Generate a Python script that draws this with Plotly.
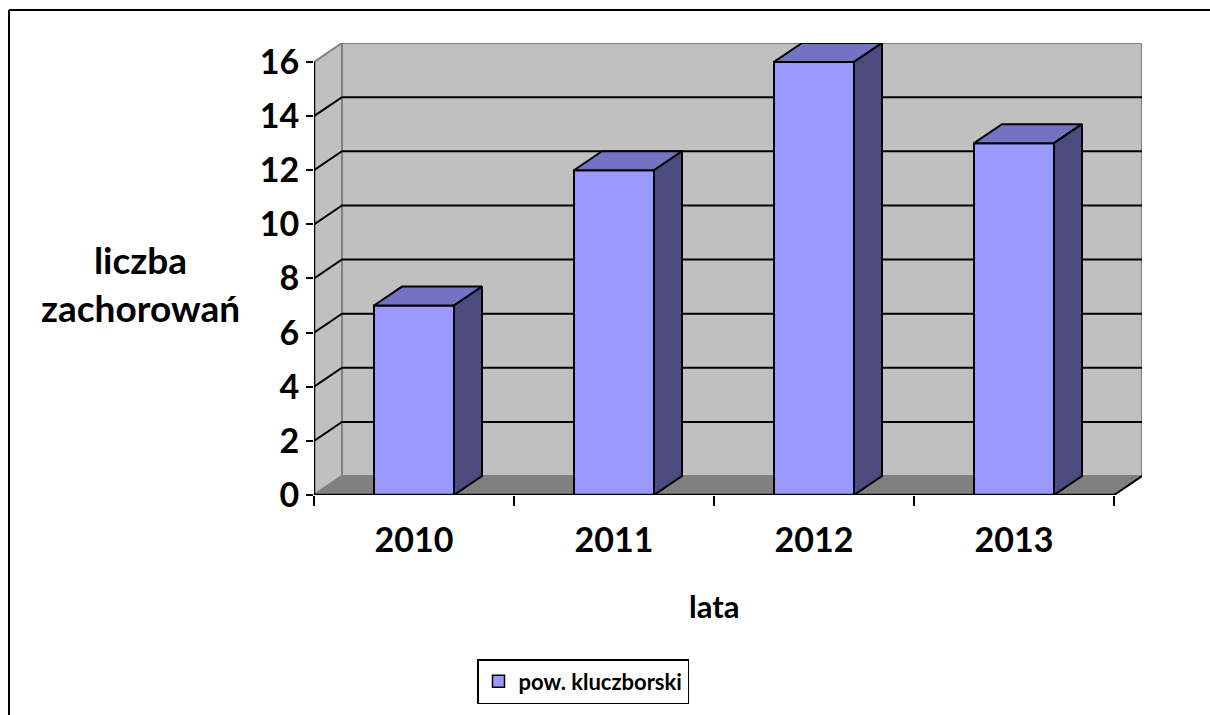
import plotly.graph_objects as go

# ---- data ----
years = ["2010", "2011", "2012", "2013"]
values = [7, 12, 16, 13]
y_ticks = [0, 2, 4, 6, 8, 10, 12, 14, 16]
series_name = "pow. kluczborski"
y_title = "liczba<br>zachorowań"
x_title = "lata"

# ---- geometry (in data units) ----
W, H = 1210, 715
L, R, T, B = 314, 68, 43, 220
ymax = 16
dx = 0.14          # depth offset along x (category units)
dy = 0.70          # depth offset along y (value units)
bw = 0.4           # bar width
x0, x1 = -0.5, len(years) - 0.5

FRONT = "#9999ff"
TOP = "#7373c4"
SIDE = "#4b4b80"
WALL = "#c0c0c0"
FLOOR = "#808080"
EDGE = "#808080"

fig = go.Figure()

def poly(xs, ys, fill, line_color, lw):
    fig.add_trace(go.Scatter(
        x=list(xs) + [xs[0]], y=list(ys) + [ys[0]], mode="lines", fill="toself",
        fillcolor=fill, line=dict(color=line_color, width=lw),
        hoverinfo="skip", showlegend=False))

def line(xs, ys, color, lw):
    fig.add_trace(go.Scatter(x=xs, y=ys, mode="lines",
                             line=dict(color=color, width=lw),
                             hoverinfo="skip", showlegend=False, cliponaxis=False))

# back wall
poly([x0 + dx, x1 + dx, x1 + dx, x0 + dx], [dy, dy, ymax + dy, ymax + dy], WALL, EDGE, 2)
# left wall
poly([x0, x0 + dx, x0 + dx, x0], [0, dy, ymax + dy, ymax], WALL, EDGE, 2)
# floor
poly([x0, x1, x1 + dx, x0 + dx], [0, 0, dy, dy], FLOOR, EDGE, 2)

# gridlines
for v in y_ticks[1:-1]:
    line([x0, x0 + dx, x1 + dx], [v, v + dy, v + dy], "black", 2)

# floor right edge
line([x1, x1 + dx], [0, dy], "black", 2)

# bars
for i, v in enumerate(values):
    xl, xr = i - bw / 2, i + bw / 2
    poly([xl, xr, xr, xl], [0, 0, v, v], FRONT, "black", 2)
    poly([xl, xr, xr + dx, xl + dx], [v, v, v + dy, v + dy], TOP, "black", 2)
    poly([xr, xr + dx, xr + dx, xr], [0, dy, v + dy, v], SIDE, "black", 2)

# axis lines
line([x0, x0], [0, ymax], "black", 2.5)
line([x0, x1], [0, 0], "black", 2.5)

# legend entry
fig.add_trace(go.Bar(x=[None], y=[None], name=series_name,
                     marker=dict(color=FRONT, line=dict(color="black", width=1.5))))

FONT = "Lato"
PW, PH = W - L - R, H - T - B

def px(x):
    return (x - L) / PW

def py(y):
    return (H - B - y) / PH

fig.update_layout(
    width=W, height=H,
    margin=dict(l=L, r=R, t=T, b=B, autoexpand=False),
    paper_bgcolor="white", plot_bgcolor="white",
    font=dict(family=FONT, color="black"),
    showlegend=True,
    legend=dict(xref="container", yref="container", x=477 / W, y=1 - 659 / H,
                xanchor="left", yanchor="top",
                bordercolor="black", borderwidth=1.5, bgcolor="white",
                font=dict(size=22, family=FONT, weight="bold"),
                itemwidth=30, tracegroupgap=0),
    xaxis=dict(range=[x0, x1 + dx], showgrid=False, zeroline=False, showline=False,
               tickmode="array", tickvals=list(range(len(years))), ticktext=years,
               ticks="", ticklabelstandoff=22,
               tickfont=dict(size=34, family=FONT, weight="bold"),
               minor=dict(tickvals=[i - 0.5 for i in range(len(years) + 1)],
                          ticks="outside", ticklen=10, tickwidth=2, tickcolor="black",
                          showgrid=False),
               fixedrange=True),
    yaxis=dict(range=[0, ymax + dy], showgrid=False, zeroline=False, showline=False,
               tickmode="array", tickvals=y_ticks,
               ticks="outside", ticklen=7, tickwidth=2, tickcolor="black",
               tickfont=dict(size=34, family=FONT, weight="bold"),
               fixedrange=True),
    annotations=[
        dict(text=y_title, xref="paper", yref="paper",
             x=px(140), y=py(283),
             showarrow=False, xanchor="center", yanchor="middle",
             font=dict(size=37, family=FONT, weight="bold")),
        dict(text=x_title, xref="paper", yref="paper",
             x=px(714), y=py(606),
             showarrow=False, xanchor="center", yanchor="middle",
             font=dict(size=31, family=FONT, weight="bold")),
    ],
    shapes=[
        dict(type="line", xref="paper", yref="paper",
             x0=px(9), x1=px(1215), y0=py(10), y1=py(10),
             line=dict(color="black", width=2)),
        dict(type="line", xref="paper", yref="paper",
             x0=px(9), x1=px(9), y0=py(10), y1=py(720),
             line=dict(color="black", width=2)),
    ],
)

fig.write_html("out.html")
